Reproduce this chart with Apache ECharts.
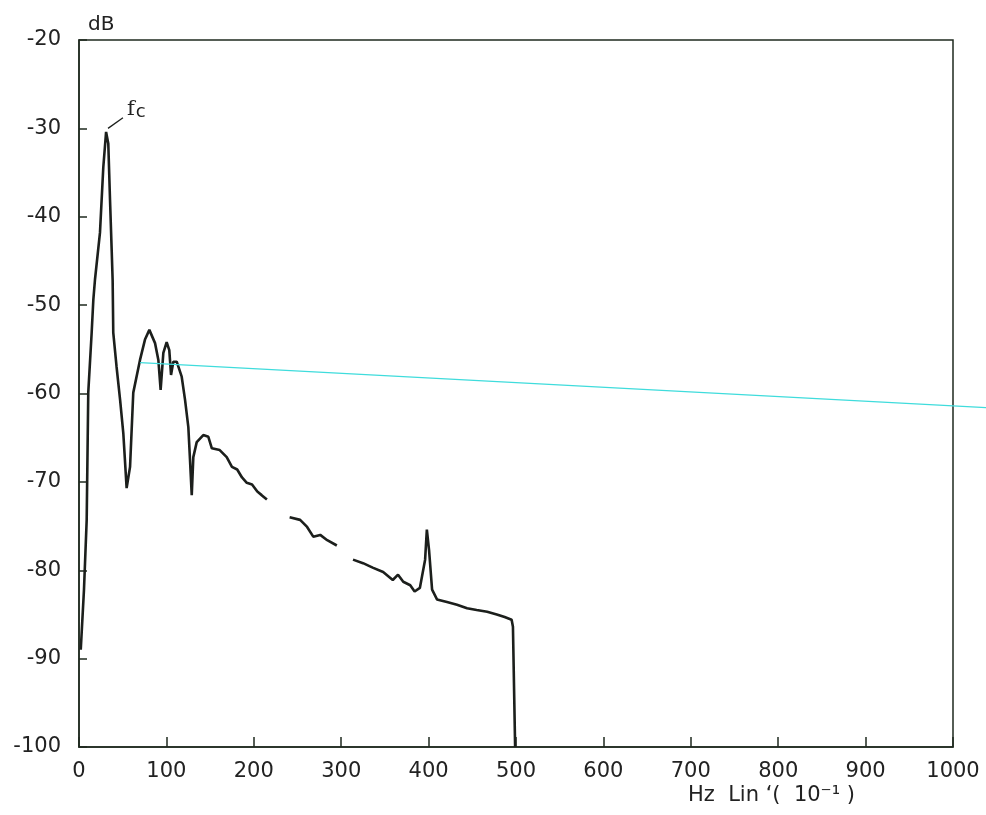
<!DOCTYPE html>
<html>
<head>
<meta charset="utf-8">
<title>dB spectrum</title>
<script src="https://cdn.jsdelivr.net/npm/echarts@6.0.0/dist/echarts.min.js"></script>
<style>
    html, body { margin: 0; padding: 0; background: #fff; }
    #chart { width: 986px; height: 815px; }
</style>
</head>
<body>
<div id="chart"></div>
<script>
//----------------------------------------------------------------------------------
// data (x in Hz lin 10^-1, y in dB)
//----------------------------------------------------------------------------------

var xTicks = [0, 100, 200, 300, 400, 500, 600, 700, 800, 900, 1000];
var yTicks = [-100, -90, -80, -70, -60, -50, -40, -30, -20];

// spectrum trace, null = faded gap in the print
var specX = [2, 5.7, 8.8, 10.6, 14.5, 16.4, 18.3, 24, 27.8, 31,
    33.5, 35.5, 37.4, 38.5, 39.2, 43, 47, 50.7, 54.5,
    58.4, 62.1, 69.8, 75.5, 80.5, 87, 90.8, 93.4, 96.5, 100.3, 103.3, 105.3, 107.9, 111.8,
    117.5, 121.3, 125.1, 127, 129,
    130.8, 134.7, 142.2, 148, 152, 161, 169, 175, 181, 186.5, 192, 198, 204, 209, 215,
    228,
    241, 253, 261, 268, 276, 284, 295,
    304,
    313.5, 325, 336, 348, 359, 365, 371, 379, 384, 390, 396, 398, 400.5, 404, 409.6,
    421, 432.5, 444, 455, 467, 478, 487, 495, 496.5, 499];
var specY = [-89, -82.2, -74.3, -59.9, -53.1, -49.4, -47.1, -41.8, -34.4, -30.4,
    -31.7, -38.1, -43.8, -47.2, -53.1, -57, -60.7, -64.5, -70.7,
    -68.3, -59.9, -56.2, -53.9, -52.8, -54.3, -56.2, -59.6, -55.4, -54.2, -55.1, -57.9, -56.4, -56.4,
    -58.1, -60.7, -63.8, -67.5, -71.5,
    -67.2, -65.5, -64.7, -64.9, -66.2, -66.4, -67.2, -68.3, -68.6, -69.5, -70.1, -70.3, -71.1, -71.5, -72.0,
    null,
    -74.0, -74.3, -75.1, -76.2, -76.0, -76.6, -77.2,
    null,
    -78.8, -79.2, -79.7, -80.2, -81.1, -80.5, -81.3, -81.7, -82.4, -82.0, -78.8, -75.4, -77.7, -82.2, -83.3,
    -83.6, -83.9, -84.3, -84.5, -84.7, -85.0, -85.3, -85.6, -86.4, -100];

// cyan reference line, runs past the right frame up to the page edge
var cyanX = [70, 1037.8];
var cyanY = [-56.5, -61.6];

// leader for the "fc" mark
var fcX = [33.2, 50.3];
var fcY = [-30.0, -28.8];

function pairs(xs, ys) {
    var out = [];
    for (var i = 0; i < xs.length; i++) {
        out.push([xs[i], ys[i]]);
    }
    return out;
}

var inkColor = '#1c1f1c';
var frameColor = '#1f2a1f';
var fontName = 'DejaVu Sans';

var chart = echarts.init(document.getElementById('chart'));

var option = {
    backgroundColor: '#ffffff',
    animation: false,
    grid: [{
        left: 79,
        top: 40,
        right: 33,
        bottom: 68,
        show: true,
        borderColor: frameColor,
        borderWidth: 1.5,
        backgroundColor: 'transparent'
    }, {
        // same plot, stretched to the page edge (1037.8 units), only for the cyan line
        left: 79,
        top: 40,
        right: 0,
        bottom: 68,
        show: false
    }],
    xAxis: [{
        type: 'value',
        gridIndex: 0,
        min: xTicks[0],
        max: xTicks[xTicks.length - 1],
        interval: 100,
        axisLine: { show: true, lineStyle: { color: frameColor, width: 1.5 } },
        axisTick: { show: true, inside: true, length: 10, lineStyle: { color: frameColor, width: 1.5 } },
        axisLabel: {
            margin: 14, color: '#222', fontFamily: fontName, fontSize: 21,
            formatter: function (v) { return String(v); }
        },
        splitLine: { show: false }
    }, {
        type: 'value',
        gridIndex: 1,
        min: 0,
        max: 1037.8,
        show: false
    }],
    yAxis: [{
        type: 'value',
        gridIndex: 0,
        min: yTicks[0],
        max: yTicks[yTicks.length - 1],
        interval: 10,
        name: 'dB',
        nameLocation: 'end',
        nameGap: 5,
        nameTextStyle: { color: '#222', fontFamily: fontName, fontSize: 20, align: 'left', padding: [0, 0, 0, 9] },
        axisLine: { show: true, lineStyle: { color: frameColor, width: 1.5 } },
        axisTick: { show: true, inside: true, length: 8, lineStyle: { color: frameColor, width: 1.5 } },
        axisLabel: { margin: 18, color: '#222', fontFamily: fontName, fontSize: 21 },
        splitLine: { show: false }
    }, {
        type: 'value',
        gridIndex: 1,
        min: yTicks[0],
        max: yTicks[yTicks.length - 1],
        show: false
    }],
    graphic: [{
        type: 'text',
        left: 688,
        top: 785,
        style: {
            text: 'Hz  Lin \u2018(  10\u207B\u00B9 )',
            fill: '#222',
            font: '21px "DejaVu Sans"'
        }
    }, {
        type: 'text',
        left: 127,
        top: 99,
        style: {
            text: 'f{c|c}',
            fill: '#222',
            font: '21px "DejaVu Serif"',
            rich: { c: { fontSize: 18, fontFamily: 'DejaVu Sans', fill: '#222', padding: [5, 0, 0, 1] } }
        }
    }],
    series: [{
        name: 'spectrum',
        type: 'line',
        xAxisIndex: 0,
        yAxisIndex: 0,
        data: pairs(specX, specY),
        showSymbol: false,
        symbol: 'none',
        connectNulls: false,
        lineStyle: { color: inkColor, width: 2.6 },
        z: 3
    }, {
        name: 'cyan',
        type: 'line',
        xAxisIndex: 1,
        yAxisIndex: 1,
        data: pairs(cyanX, cyanY),
        symbol: 'none',
        lineStyle: { color: '#3fdcdc', width: 1.3 },
        z: 4
    }, {
        name: 'fc leader',
        type: 'line',
        xAxisIndex: 0,
        yAxisIndex: 0,
        data: pairs(fcX, fcY),
        symbol: 'none',
        lineStyle: { color: inkColor, width: 1.3 },
        z: 3
    }]
};

chart.setOption(option);
</script>
</body>
</html>
